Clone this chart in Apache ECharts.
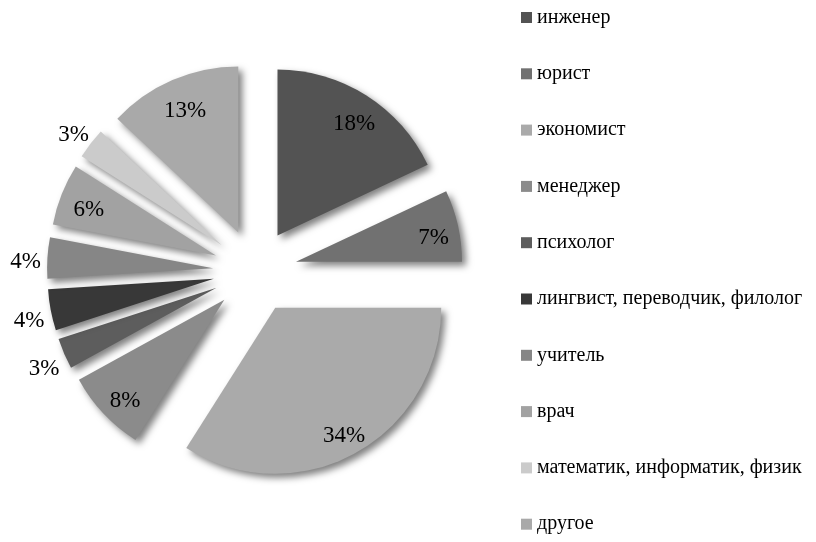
<!DOCTYPE html>
<html>
<head>
<meta charset="utf-8">
<script src="https://cdn.jsdelivr.net/npm/echarts@6/dist/echarts.min.js"></script>
<style>
  html, body { margin: 0; padding: 0; background: #fff; }
  #chart { width: 816px; height: 542px; }
</style>
</head>
<body>
<div id="chart"></div>
<script>
const professions = ['инженер', 'юрист', 'экономист', 'менеджер', 'психолог',
  'лингвист, переводчик, филолог', 'учитель', 'врач', 'математик, информатик, физик', 'другое']
const shares = [18, 7, 34, 8, 3, 4, 4, 6, 3, 13]
const sliceColors = ['#535353', '#717171', '#aaaaaa', '#8b8b8b', '#5d5d5d',
  '#383838', '#868686', '#a2a2a2', '#cbcbcb', '#a9a9a9']

const center = [255, 271]
const labelCenter = [257, 277]
const R = 166
const explode = 42
const font = "'Liberation Serif', 'Times New Roman', serif"

// labels sit on their own invisible rings so they land near the rim (inside) or just past it
function labelData(showIt) {
  return professions.map((name, i) => ({
    name,
    value: shares[i],
    selected: true,
    label: { show: showIt(shares[i]) }
  }))
}

function labelSeries(radius, showIt) {
  return {
    type: 'pie',
    center: labelCenter,
    radius,
    selectedMode: 'multiple',
    selectedOffset: explode,
    silent: true,
    avoidLabelOverlap: false,
    itemStyle: { color: 'rgba(0,0,0,0)', borderWidth: 0 },
    emphasis: { disabled: true },
    label: {
      position: 'inside',
      formatter: '{c}%',
      color: '#000',
      fontFamily: font,
      fontSize: 23
    },
    labelLine: { show: false },
    data: labelData(showIt)
  }
}

const myChart = echarts.init(document.getElementById('chart'))
myChart.setOption({
  animation: false,
  legend: {
    orient: 'vertical',
    left: 516,
    top: 2.5,
    itemWidth: 11,
    itemHeight: 11,
    itemGap: 36.3,
    icon: 'rect',
    textStyle: { fontFamily: font, fontSize: 20, color: '#000', lineHeight: 20 },
    data: professions
  },
  series: [
    {
      type: 'pie',
      center,
      radius: [0, R],
      selectedMode: 'multiple',
      selectedOffset: explode,
      label: { show: false },
      labelLine: { show: false },
      emphasis: { disabled: true },
      itemStyle: {
        borderWidth: 0,
        shadowBlur: 7,
        shadowOffsetX: 4,
        shadowOffsetY: 4,
        shadowColor: 'rgba(0,0,0,0.5)'
      },
      data: professions.map((name, i) => ({
        name,
        value: shares[i],
        selected: true,
        itemStyle: { color: sliceColors[i] }
      }))
    },
    labelSeries([106, R], v => v >= 5),
    labelSeries([170, 204], v => v < 5)
  ]
})
</script>
</body>
</html>
